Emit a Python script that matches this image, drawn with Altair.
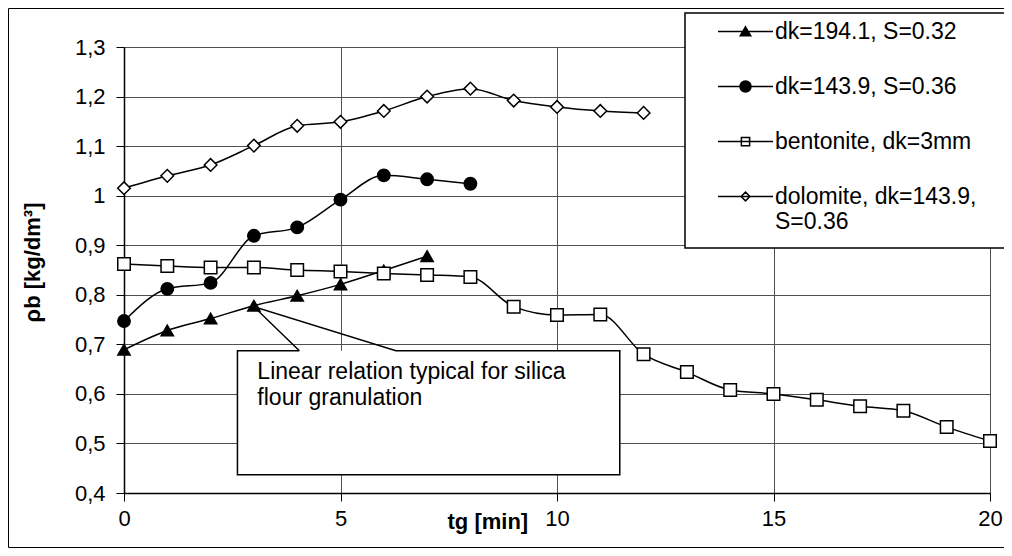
import altair as alt
import pandas as pd

FONT = "Liberation Sans"

series_names = ["dk=194.1, S=0.32", "dk=143.9, S=0.36", "bentonite, dk=3mm", "dolomite, dk=143.9, S=0.36"]

t_tri = [0, 1, 2, 3, 4, 5, 6, 7]
v_tri = [0.689, 0.728, 0.752, 0.778, 0.798, 0.821, 0.849, 0.878]

t_circ = [0, 1, 2, 3, 4, 5, 6, 7, 8]
v_circ = [0.747, 0.812, 0.824, 0.919, 0.936, 0.992, 1.041, 1.033, 1.024]

t_sq = list(range(21))
v_sq = [0.862, 0.858, 0.855, 0.855, 0.850, 0.847, 0.843, 0.840, 0.836, 0.776, 0.759, 0.760,
        0.680, 0.644, 0.608, 0.600, 0.588, 0.575, 0.566, 0.533, 0.505]

t_dia = list(range(13))
v_dia = [1.015, 1.040, 1.062, 1.101, 1.141, 1.149, 1.171, 1.200, 1.216, 1.192, 1.179, 1.171, 1.167]

x_ticks = [0, 5, 10, 15, 20]
y_ticks = [0.4, 0.5, 0.6, 0.7, 0.8, 0.9, 1.0, 1.1, 1.2, 1.3]

# annotation callout (data coordinates)
note_lines = ["Linear relation typical for silica", "flour granulation"]
note_t = [3.08, 3.08]
note_v = [0.645, 0.592]
box_t, box_t2, box_v, box_v2 = [2.62], [11.45], [0.437], [0.687]
callout_t = [4.05, 2.62, 2.62, 11.45, 11.45, 6.28, 3.0, 4.05]
callout_v = [0.687, 0.687, 0.437, 0.437, 0.687, 0.687, 0.776, 0.687]

marker_shapes = ["triangle-up", "circle", "square", "diamond"]
marker_fill = ["black", "black", "white", "white"]
marker_stroke = ["black", "black", "black", "black"]
marker_size = [150, 160, 121, 121]
legend_paths = [
    "M-5,0L5,0M0,-0.85L0.95,0.75L-0.95,0.75Z",
    "M-5,0L5,0M-1,0A1,1,0,1,1,1,0A1,1,0,1,1,-1,0Z",
    "M-5,0L5,0M-0.75,-0.75L0.75,-0.75L0.75,0.75L-0.75,0.75Z",
    "M-5,0L5,0M0,-0.8L0.8,0L0,0.8L-0.8,0Z",
]

frames = []
for name, ts, vs in [(series_names[0], t_tri, v_tri), (series_names[1], t_circ, v_circ),
                     (series_names[2], t_sq, v_sq), (series_names[3], t_dia, v_dia)]:
    frames.append(pd.DataFrame({"t": ts, "v": vs, "s": name}))
df = pd.concat(frames, ignore_index=True)

x_enc = alt.X("t:Q", scale=alt.Scale(domain=[0, 20], nice=False),
              axis=alt.Axis(values=x_ticks, title="tg [min]", titleX=323, titleY=28,
                            titleAlign="left", titleBaseline="middle", labelPadding=7,
                            labelFlush=False))
y_enc = alt.Y("v:Q", scale=alt.Scale(domain=[0.4, 1.3], nice=False, zero=False),
              axis=alt.Axis(values=y_ticks, title="ρb [kg/dm³]", titleX=-92, titleY=215,
                            titleAlign="center", titleBaseline="middle", labelPadding=11,
                            labelFlush=False,
                            labelExpr="replace(toString(round(datum.value*10)/10), '.', ',')"))

lines = alt.Chart(df).mark_line(interpolate="monotone", color="black", strokeWidth=1.5).encode(
    x=x_enc, y=y_enc, detail="s:N")

points = alt.Chart(df).mark_point(filled=True, stroke="black", strokeWidth=1.5, opacity=1).encode(
    x=x_enc, y=y_enc,
    shape=alt.Shape("s:N", scale=alt.Scale(domain=series_names, range=marker_shapes), legend=None),
    fill=alt.Fill("s:N", scale=alt.Scale(domain=series_names, range=marker_fill), legend=None),
    size=alt.Size("s:N", scale=alt.Scale(domain=series_names, range=marker_size), legend=None),
)

leg = alt.Legend(orient="none", legendX=610, legendY=-27, title=None, labelFont=FONT,
                 labelFontSize=23, labelColor="black", symbolSize=121, symbolStrokeColor="black",
                 symbolStrokeWidth=1.5, rowPadding=31, labelOffset=18, padding=0, labelLimit=500,
                 labelExpr="datum.label == 'dolomite, dk=143.9, S=0.36' ? ['dolomite, dk=143.9,', 'S=0.36'] : (datum.label == 'bentonite, dk=3mm' ? '\u2002bentonite, dk=3mm' : datum.label)")

legend_layer = alt.Chart(df).transform_filter("false").mark_point(
    filled=True, strokeWidth=1.5, opacity=1).encode(
    x=x_enc, y=y_enc,
    shape=alt.Shape("s:N", scale=alt.Scale(domain=series_names, range=legend_paths), legend=leg),
    fill=alt.Fill("s:N", scale=alt.Scale(domain=series_names, range=marker_fill), legend=leg),
    stroke=alt.Stroke("s:N", scale=alt.Scale(domain=series_names, range=marker_stroke), legend=leg),
)

one = pd.DataFrame({"a": [0]})
frame = alt.Chart(one).mark_rect(filled=False, stroke="black", strokeWidth=1).encode(
    x=alt.value(-115.5), x2=alt.value(905), y=alt.value(-38.5), y2=alt.value(500.5))
legend_box = alt.Chart(one).mark_rect(fill="white", stroke="black", strokeWidth=1.5).encode(
    x=alt.value(561), x2=alt.value(905), y=alt.value(-34), y2=alt.value(201))

box_df = pd.DataFrame({"t": box_t, "t2": box_t2, "v": box_v, "v2": box_v2})
note_box = alt.Chart(box_df).mark_rect(fill="white", strokeWidth=0).encode(
    x=x_enc, x2="t2:Q", y=y_enc, y2="v2:Q")
callout_df = pd.DataFrame({"t": callout_t, "v": callout_v, "o": list(range(len(callout_t)))})
callout = alt.Chart(callout_df).mark_line(color="black", strokeWidth=1.5).encode(
    x=x_enc, y=y_enc, order="o:Q")
note_df = pd.DataFrame({"t": note_t, "v": note_v, "txt": note_lines})
note_text = alt.Chart(note_df).mark_text(align="left", baseline="middle", font=FONT, fontSize=23,
                                        color="black").encode(x=x_enc, y=y_enc, text="txt:N")

chart = alt.layer(
    note_box, lines, points, callout, note_text, legend_box, legend_layer, frame
).resolve_scale(shape="independent", fill="independent", stroke="independent").properties(
    width=866, height=446,
    background="white",
    autosize=alt.AutoSizeParams(type="none"),
    padding={"left": 116, "top": 39, "right": 14, "bottom": 55},
).configure_view(stroke=None).configure_axis(
    domainColor="black", domainWidth=1.5, tickColor="black", tickSize=8, tickWidth=1,
    grid=True, gridColor="#505050", gridWidth=1, labelFont=FONT, labelFontSize=22, labelColor="black",
    titleFont=FONT, titleFontSize=22, titleFontWeight="bold", titleColor="black",
)

chart.save("out.html", embed_options={"renderer": "svg", "actions": False})
